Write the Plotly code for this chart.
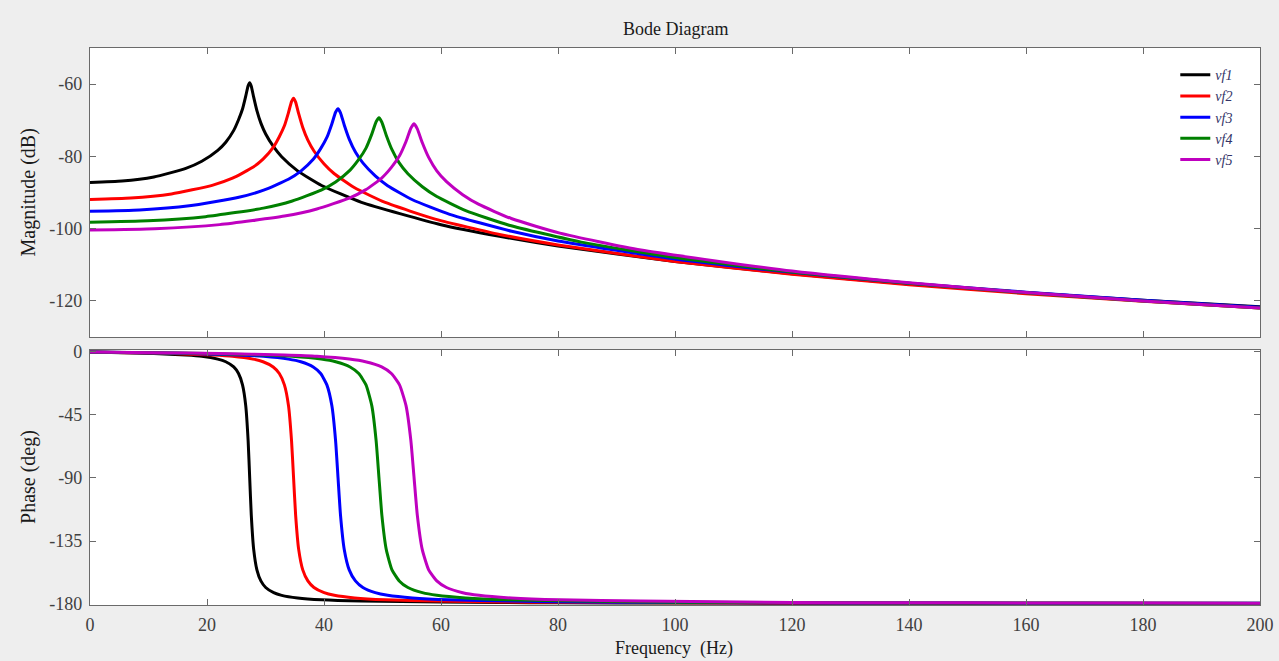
import plotly.graph_objects as go

# Frequency grids (Hz), magnitude (dB) and phase (deg) for each voltage-feedback case
f_vf1 = [0, 5.46, 10.92, 16.38, 19.11, 21.84, 23.21, 24.57, 25.39, 26.07, 26.62, 27.03, 27.3, 27.57, 27.98, 28.53,
         29.21, 30.03, 31.4, 32.76, 35.49, 39.59, 46.41, 60, 70, 80, 100, 120, 140, 160, 180, 200]
mag_vf1 = [-87.2, -86.84, -85.69, -83.32, -81.35, -78.33, -76.07, -72.8, -69.85, -66.9, -63.32, -60.42, -59.6, -60.58,
           -63.62, -67.36, -70.8, -73.8, -77.4, -80.1, -84.0, -88.05, -92.73, -98.9, -102.1, -104.8, -109.1, -112.5,
           -115.3, -117.7, -119.8, -121.6]
ph_vf1 = [0, -0.5, -1.1, -2.2, -3.1, -5.1, -7.0, -10.7, -15.4, -23.5, -38.3, -63.3, -90, -116.5, -141.0, -155.6,
          -163.5, -168.2, -171.9, -173.8, -175.7, -177.0, -177.9, -178.6, -178.9, -179.1, -179.3, -179.4, -179.5,
          -179.6, -179.6, -179.7]

f_vf2 = [0, 6.96, 13.92, 20.88, 24.36, 27.84, 29.58, 31.32, 32.36, 33.23, 33.93, 34.45, 34.8, 35.15, 35.67, 36.37,
         37.24, 38.28, 40.02, 41.76, 45.24, 50.46, 59.16, 70, 80, 100, 120, 140, 160, 180, 200]
mag_vf2 = [-91.9, -91.54, -90.39, -88.02, -86.05, -83.03, -80.77, -77.5, -74.55, -71.54, -67.87, -64.83, -63.9, -64.99,
           -68.18, -71.99, -75.5, -78.5, -82.1, -84.8, -88.7, -92.75, -97.43, -101.6, -104.5, -109.1, -112.6, -115.5,
           -118.0, -120.1, -122.0]
ph_vf2 = [0, -0.5, -1.1, -2.2, -3.1, -5.1, -7.0, -10.7, -15.4, -23.5, -38.3, -63.3, -90, -116.5, -141.0, -155.6,
          -163.5, -168.2, -171.9, -173.8, -175.7, -177.0, -177.9, -178.5, -178.8, -179.1, -179.3, -179.4, -179.5,
          -179.5, -179.6]

f_vf3 = [0, 8.48, 16.96, 25.44, 29.68, 33.92, 36.04, 38.16, 39.43, 40.49, 41.34, 41.98, 42.4, 42.82, 43.46, 44.31,
         45.37, 46.64, 48.76, 50.88, 55.12, 61.48, 72.08, 80, 100, 120, 140, 160, 180, 200]
mag_vf3 = [-95.2, -94.84, -93.69, -91.32, -89.35, -86.33, -84.07, -80.8, -77.85, -74.77, -71.01, -67.78, -66.8, -67.93,
           -71.31, -75.22, -78.8, -81.8, -85.4, -88.1, -92.0, -96.05, -100.73, -103.4, -108.4, -112.1, -115.1, -117.6,
           -119.8, -121.75]
ph_vf3 = [0, -0.5, -1.1, -2.2, -3.1, -5.1, -7.0, -10.7, -15.4, -23.5, -38.3, -63.3, -90, -116.5, -141.0, -155.6,
          -163.5, -168.2, -171.9, -173.8, -175.7, -177.0, -177.9, -178.4, -178.9, -179.1, -179.3, -179.4, -179.5,
          -179.5]

f_vf4 = [0, 9.88, 19.76, 29.64, 34.58, 39.52, 41.99, 44.46, 45.94, 47.18, 48.17, 48.91, 49.4, 49.89, 50.64, 51.62,
         52.86, 54.34, 56.81, 59.28, 64.22, 71.63, 83.98, 100, 120, 140, 160, 180, 200]
mag_vf4 = [-98.2, -97.84, -96.69, -94.32, -92.35, -89.33, -87.07, -83.8, -80.85, -77.7, -73.84, -70.4, -69.3, -70.55,
           -74.13, -78.14, -81.8, -84.8, -88.4, -91.1, -95.0, -99.05, -103.73, -108.0, -112.0, -115.1, -117.75, -120.0,
           -121.95]
ph_vf4 = [0, -0.5, -1.1, -2.2, -3.1, -5.1, -7.0, -10.7, -15.4, -23.5, -38.3, -63.3, -90, -116.5, -141.0, -155.6,
          -163.5, -168.2, -171.9, -173.8, -175.7, -177.0, -177.9, -178.65, -179.0, -179.2, -179.3, -179.4, -179.5]

f_vf5 = [0, 11.08, 22.16, 33.24, 38.78, 44.32, 47.09, 49.86, 51.52, 52.91, 54.02, 54.85, 55.4, 55.95, 56.79, 57.89,
         59.28, 60.94, 63.71, 66.48, 72.02, 80.33, 94.18, 120, 140, 160, 180, 200]
mag_vf5 = [-100.4, -100.04, -98.89, -96.52, -94.55, -91.53, -89.27, -86.0, -83.05, -79.84, -75.88, -72.22, -71.0,
           -72.38, -76.16, -80.28, -84.0, -87.0, -90.6, -93.3, -97.2, -101.25, -105.93, -111.75, -115.0, -117.7,
           -120.0, -122.0]
ph_vf5 = [0, -0.5, -1.1, -2.2, -3.1, -5.1, -7.0, -10.7, -15.4, -23.5, -38.3, -63.3, -90, -116.5, -141.0, -155.6,
          -163.5, -168.2, -171.9, -173.8, -175.7, -177.0, -177.9, -178.9, -179.1, -179.2, -179.3, -179.4]

series_names = ["vf1", "vf2", "vf3", "vf4", "vf5"]
series_freqs = [f_vf1, f_vf2, f_vf3, f_vf4, f_vf5]
series_mags = [mag_vf1, mag_vf2, mag_vf3, mag_vf4, mag_vf5]
series_phases = [ph_vf1, ph_vf2, ph_vf3, ph_vf4, ph_vf5]
series_colors = ["#000000", "#ff0000", "#0000ff", "#008000", "#bf00bf"]

x_ticks = [0, 20, 40, 60, 80, 100, 120, 140, 160, 180, 200]
x_tick_labels = ["0", "20", "40", "60", "80", "100", "120", "140", "160", "180", "200"]
mag_ticks = [-120, -100, -80, -60]
mag_tick_labels = ["-120", "-100", "-80", "-60"]
phase_ticks = [-180, -135, -90, -45, 0]
phase_tick_labels = ["-180", "-135", "-90", "-45", "0"]

SERIF = "Liberation Serif"
FRAME = "#6a6a6a"
TICK_FONT = dict(family=SERIF, size=18, color="#404040")

fig = go.Figure()

for name, fx, mag, ph, col in zip(series_names, series_freqs, series_mags, series_phases, series_colors):
    fig.add_trace(go.Scatter(
        x=fx, y=mag, name=name, mode="lines", xaxis="x", yaxis="y",
        line=dict(color=col, width=3, shape="spline", smoothing=0.5),
    ))
    fig.add_trace(go.Scatter(
        x=fx, y=ph, name=name, mode="lines", xaxis="x2", yaxis="y2", showlegend=False,
        line=dict(color=col, width=3, shape="spline", smoothing=0.5),
    ))

axis_common = dict(
    showgrid=False, zeroline=False, showline=True, linecolor=FRAME, linewidth=1.2,
    mirror="ticks", ticks="inside", ticklen=6, tickcolor=FRAME, tickwidth=1,
    tickfont=TICK_FONT,
)

fig.update_layout(
    width=1279, height=661,
    margin=dict(l=90, r=19, t=48, b=56, autoexpand=False),
    paper_bgcolor="#eeeeee",
    plot_bgcolor="#ffffff",
    xaxis=dict(domain=[0, 1], anchor="y", range=[0, 200], tickvals=x_ticks,
               showticklabels=False, **axis_common),
    yaxis=dict(domain=[0.4811, 1], anchor="x", range=[-130, -50], tickvals=mag_ticks,
               ticktext=mag_tick_labels, ticklabelstandoff=3, **axis_common),
    xaxis2=dict(domain=[0, 1], anchor="y2", range=[0, 200], tickvals=x_ticks, ticktext=x_tick_labels,
                ticklabelstandoff=3, **axis_common),
    yaxis2=dict(domain=[0, 0.4578], anchor="x2", range=[-180.7, 1.4], tickvals=phase_ticks,
                ticktext=phase_tick_labels, ticklabelstandoff=3, **axis_common),
    legend=dict(
        x=0.9276, y=0.98, xanchor="left", yanchor="top",
        bgcolor="rgba(255,255,255,0)", borderwidth=0,
        font=dict(family=SERIF, size=14, color="#333366", style="italic"),
    ),
    showlegend=True,
    annotations=[
        dict(text="Bode Diagram", x=0.5, y=1.034, xref="paper", yref="paper",
             xanchor="center", yanchor="middle", showarrow=False,
             font=dict(family=SERIF, size=18, color="#1a1a1a")),
        dict(text="Magnitude (dB)", x=-0.053, y=0.7406, xref="paper", yref="paper",
             xanchor="center", yanchor="middle", textangle=-90, showarrow=False,
             font=dict(family=SERIF, size=20, color="#1a1a1a")),
        dict(text="Phase (deg)", x=-0.053, y=0.2298, xref="paper", yref="paper",
             xanchor="center", yanchor="middle", textangle=-90, showarrow=False,
             font=dict(family=SERIF, size=20, color="#1a1a1a")),
        dict(text="Frequency  (Hz)", x=0.4991, y=-0.0772, xref="paper", yref="paper",
             xanchor="center", yanchor="middle", showarrow=False,
             font=dict(family=SERIF, size=18, color="#1a1a1a")),
    ],
)

fig.write_html("out.html")
